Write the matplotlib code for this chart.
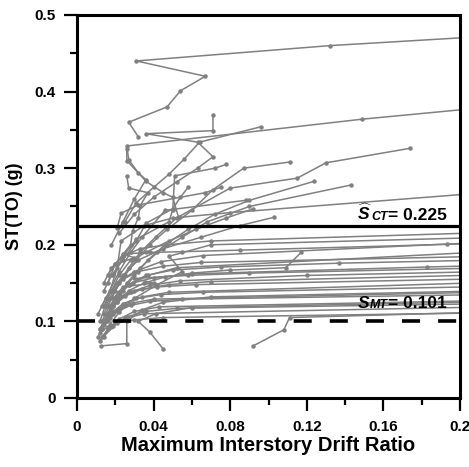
import matplotlib
matplotlib.use("Agg")
import matplotlib.pyplot as plt
from matplotlib.ticker import MultipleLocator, FixedLocator

plt.rcParams['font.family'] = ['Liberation Sans', 'DejaVu Sans']
plt.rcParams['mathtext.fontset'] = 'custom'
plt.rcParams['mathtext.it'] = 'Liberation Sans:italic:bold'
plt.rcParams['mathtext.rm'] = 'Liberation Sans:bold'
plt.rcParams['mathtext.bf'] = 'Liberation Sans:bold'

# ---- IDA curves: maximum interstory drift ratio vs ST(TO) (g) ----
r01_d = [0.032, 0.027, 0.047, 0.054, 0.067, 0.031, 0.132, 0.300]
r01_s = [0.341, 0.360, 0.380, 0.401, 0.420, 0.440, 0.460, 0.485]
r02_d = [0.018, 0.024, 0.030, 0.036, 0.032, 0.027, 0.026, 0.149, 0.300]
r02_s = [0.200, 0.230, 0.260, 0.285, 0.294, 0.311, 0.329, 0.364, 0.400]
r03_d = [0.022, 0.030, 0.040, 0.052, 0.063, 0.071, 0.063, 0.036, 0.071, 0.071]
r03_s = [0.215, 0.240, 0.262, 0.282, 0.300, 0.315, 0.334, 0.345, 0.349, 0.369]
r04_d = [0.025, 0.031, 0.040, 0.048, 0.056, 0.064, 0.096]
r04_s = [0.230, 0.255, 0.275, 0.292, 0.312, 0.334, 0.354]
r05_d = [0.014, 0.018, 0.022, 0.027, 0.033, 0.041, 0.052, 0.080, 0.115, 0.130, 0.174]
r05_s = [0.110, 0.130, 0.150, 0.170, 0.190, 0.210, 0.235, 0.274, 0.287, 0.307, 0.326]
r06_d = [0.016, 0.020, 0.025, 0.031, 0.038, 0.047, 0.060, 0.071, 0.087, 0.111]
r06_s = [0.120, 0.140, 0.160, 0.180, 0.200, 0.220, 0.245, 0.272, 0.300, 0.308]
r07_d = [0.015, 0.019, 0.024, 0.030, 0.037, 0.046, 0.058, 0.072, 0.090, 0.124]
r07_s = [0.100, 0.120, 0.140, 0.160, 0.180, 0.200, 0.220, 0.240, 0.258, 0.283]
r08_d = [0.013, 0.017, 0.021, 0.026, 0.033, 0.042, 0.055, 0.068, 0.090, 0.143]
r08_s = [0.090, 0.110, 0.130, 0.150, 0.170, 0.190, 0.210, 0.230, 0.250, 0.278]
r09_d = [0.012, 0.016, 0.021, 0.023, 0.035, 0.050, 0.080, 0.300]
r09_s = [0.100, 0.130, 0.170, 0.205, 0.225, 0.235, 0.242, 0.285]
m01_d = [0.021, 0.023, 0.032, 0.067, 0.075]
m01_s = [0.222, 0.241, 0.252, 0.268, 0.275]
m02_d = [0.026, 0.026, 0.036, 0.045, 0.050, 0.053]
m02_s = [0.325, 0.310, 0.283, 0.268, 0.262, 0.236]
m03_d = [0.016, 0.020, 0.028, 0.029, 0.032, 0.033, 0.037, 0.027, 0.026]
m03_s = [0.150, 0.175, 0.200, 0.218, 0.235, 0.251, 0.268, 0.274, 0.290]
m04_d = [0.019, 0.024, 0.031, 0.048, 0.050, 0.051, 0.072, 0.078]
m04_s = [0.160, 0.185, 0.207, 0.230, 0.246, 0.290, 0.300, 0.305]
m05_d = [0.014, 0.018, 0.024, 0.031, 0.036, 0.050, 0.054, 0.058]
m05_s = [0.140, 0.160, 0.180, 0.205, 0.228, 0.247, 0.262, 0.275]
m06_d = [0.013, 0.017, 0.022, 0.028, 0.034, 0.046, 0.088]
m06_s = [0.120, 0.140, 0.165, 0.190, 0.210, 0.245, 0.258]
b01_d = [0.014, 0.018, 0.024, 0.033, 0.047, 0.070, 0.400]
b01_s = [0.150, 0.170, 0.185, 0.195, 0.200, 0.205, 0.230]
b02_d = [0.011, 0.015, 0.021, 0.030, 0.044, 0.066, 0.193, 0.400]
b02_s = [0.110, 0.130, 0.150, 0.165, 0.178, 0.186, 0.201, 0.220]
b03_d = [0.016, 0.020, 0.030, 0.024, 0.038, 0.055, 0.085, 0.400]
b03_s = [0.160, 0.175, 0.183, 0.188, 0.190, 0.191, 0.193, 0.215]
b04_d = [0.012, 0.016, 0.020, 0.027, 0.037, 0.052, 0.400]
b04_s = [0.090, 0.110, 0.130, 0.148, 0.160, 0.170, 0.215]
b05_d = [0.015, 0.019, 0.024, 0.032, 0.045, 0.065, 0.400]
b05_s = [0.120, 0.140, 0.155, 0.165, 0.172, 0.177, 0.195]
b06_d = [0.017, 0.021, 0.027, 0.036, 0.050, 0.075, 0.137, 0.400]
b06_s = [0.110, 0.130, 0.148, 0.160, 0.167, 0.171, 0.176, 0.190]
b07_d = [0.013, 0.017, 0.022, 0.029, 0.040, 0.060, 0.183, 0.400]
b07_s = [0.100, 0.120, 0.138, 0.150, 0.157, 0.162, 0.171, 0.185]
b08_d = [0.019, 0.024, 0.040, 0.030, 0.058, 0.090, 0.400]
b08_s = [0.130, 0.145, 0.150, 0.156, 0.160, 0.163, 0.180]
b09_d = [0.012, 0.016, 0.021, 0.028, 0.038, 0.054, 0.120, 0.400]
b09_s = [0.090, 0.110, 0.125, 0.138, 0.147, 0.153, 0.160, 0.175]
b10_d = [0.014, 0.019, 0.025, 0.034, 0.048, 0.070, 0.400]
b10_s = [0.100, 0.120, 0.133, 0.142, 0.148, 0.152, 0.172]
b11_d = [0.018, 0.023, 0.030, 0.042, 0.062, 0.400]
b11_s = [0.120, 0.133, 0.140, 0.145, 0.148, 0.165]
b12_d = [0.011, 0.014, 0.019, 0.025, 0.034, 0.048, 0.400]
b12_s = [0.080, 0.095, 0.110, 0.123, 0.132, 0.138, 0.165]
b13_d = [0.015, 0.019, 0.024, 0.031, 0.044, 0.066, 0.400]
b13_s = [0.100, 0.113, 0.123, 0.130, 0.135, 0.138, 0.155]
b14_d = [0.013, 0.017, 0.022, 0.029, 0.040, 0.400]
b14_s = [0.090, 0.104, 0.116, 0.124, 0.129, 0.148]
b15_d = [0.016, 0.021, 0.028, 0.038, 0.055, 0.400]
b15_s = [0.100, 0.113, 0.121, 0.126, 0.129, 0.142]
b16_d = [0.012, 0.016, 0.022, 0.030, 0.043, 0.400]
b16_s = [0.075, 0.090, 0.103, 0.113, 0.119, 0.136]
b17_d = [0.014, 0.019, 0.026, 0.036, 0.052, 0.400]
b17_s = [0.080, 0.094, 0.106, 0.113, 0.117, 0.130]
b18_d = [0.013, 0.018, 0.025, 0.035, 0.400]
b18_s = [0.080, 0.093, 0.104, 0.110, 0.128]
b19_d = [0.092, 0.108, 0.111, 0.400]
b19_s = [0.068, 0.089, 0.105, 0.125]
b20_d = [0.012, 0.016, 0.021, 0.030, 0.045, 0.400]
b20_s = [0.085, 0.093, 0.098, 0.102, 0.105, 0.118]
e01_d = [0.016, 0.021, 0.027, 0.035, 0.046, 0.060, 0.080, 0.109, 0.117]
e01_s = [0.110, 0.125, 0.140, 0.150, 0.158, 0.163, 0.167, 0.170, 0.190]
e02_d = [0.014, 0.018, 0.024, 0.032, 0.045, 0.065, 0.085, 0.103]
e02_s = [0.120, 0.140, 0.160, 0.180, 0.195, 0.210, 0.225, 0.236]
e03_d = [0.018, 0.022, 0.028, 0.036, 0.048, 0.062, 0.078, 0.092]
e03_s = [0.140, 0.160, 0.180, 0.190, 0.205, 0.220, 0.235, 0.247]
e04_d = [0.0125, 0.026, 0.026, 0.034, 0.045, 0.070, 0.400]
e04_s = [0.068, 0.071, 0.100, 0.115, 0.125, 0.132, 0.150]
e05_d = [0.045, 0.038, 0.032, 0.041, 0.060, 0.400]
e05_s = [0.064, 0.086, 0.100, 0.110, 0.118, 0.135]
e06_d = [0.017, 0.022, 0.030, 0.042, 0.055, 0.048, 0.070, 0.400]
e06_s = [0.095, 0.112, 0.130, 0.148, 0.165, 0.185, 0.200, 0.222]

records = [
    (r01_d, r01_s), (r02_d, r02_s), (r03_d, r03_s), (r04_d, r04_s),
    (r05_d, r05_s), (r06_d, r06_s), (r07_d, r07_s), (r08_d, r08_s),
    (r09_d, r09_s), (m01_d, m01_s), (m02_d, m02_s), (m03_d, m03_s),
    (m04_d, m04_s), (m05_d, m05_s), (m06_d, m06_s),
    (b01_d, b01_s), (b02_d, b02_s), (b03_d, b03_s), (b04_d, b04_s),
    (b05_d, b05_s), (b06_d, b06_s), (b07_d, b07_s), (b08_d, b08_s),
    (b09_d, b09_s), (b10_d, b10_s), (b11_d, b11_s), (b12_d, b12_s),
    (b13_d, b13_s), (b14_d, b14_s), (b15_d, b15_s), (b16_d, b16_s),
    (b17_d, b17_s), (b18_d, b18_s), (b19_d, b19_s), (b20_d, b20_s),
    (e01_d, e01_s), (e02_d, e02_s), (e03_d, e03_s), (e04_d, e04_s),
    (e05_d, e05_s), (e06_d, e06_s),
]

s_ct = 0.225
s_mt = 0.101

x_ticks = [0, 0.04, 0.08, 0.12, 0.16, 0.2]
x_ticklabels = ['0', '0.04', '0.08', '0.12', '0.16', '0.2']
y_ticks = [0, 0.1, 0.2, 0.3, 0.4, 0.5]
y_ticklabels = ['0', '0.1', '0.2', '0.3', '0.4', '0.5']

fig = plt.figure(figsize=(4.69, 4.67), dpi=100)
ax = fig.add_axes([0.1642, 0.1478, 0.9808 - 0.1642, 0.9679 - 0.1478])

for d, s in records:
    ax.plot(d, s, color='#808080', lw=1.1, marker='o', ms=2.2,
            mec='#808080', mfc='#808080', zorder=2)

ax.axhline(s_ct, color='black', lw=2.3, zorder=3)
ax.axhline(s_mt, color='black', lw=2.6, ls=(0, (5.0, 5.0)), zorder=3)

ax.set_xlim(0, 0.2)
ax.set_ylim(0, 0.5)
ax.xaxis.set_major_locator(FixedLocator(x_ticks))
ax.set_xticklabels(x_ticklabels)
ax.yaxis.set_major_locator(FixedLocator(y_ticks))
ax.set_yticklabels(y_ticklabels)
ax.xaxis.set_minor_locator(MultipleLocator(0.02))
ax.yaxis.set_minor_locator(MultipleLocator(0.05))
ax.tick_params(which='major', direction='out', length=9.5, width=1.6,
               labelsize=11, pad=6)
ax.tick_params(which='minor', direction='out', length=5, width=1.6)
for lab in ax.get_xticklabels() + ax.get_yticklabels():
    lab.set_fontweight('bold')
for sp in ax.spines.values():
    sp.set_linewidth(2.2)

ax.set_xlabel('Maximum Interstory Drift Ratio', fontsize=14.5, fontweight='bold', labelpad=2)
ax.set_ylabel('ST(TO) (g)', fontsize=13, fontweight='bold', labelpad=8)

def label(y, sub, val):
    t1 = ax.text(0.193, y, '= ' + val, fontsize=12.5, fontweight='bold',
                 ha='right', va='bottom', zorder=5)
    t2 = ax.annotate(sub, xy=(0, 0), xycoords=t1, fontsize=9,
                     fontweight='bold', fontstyle='italic', ha='right',
                     va='bottom', zorder=5)
    return t2

t = label(s_ct + 0.003, 'CT', '0.225')
ax.annotate(r'$\widehat{S}$', xy=(0, 0), xycoords=t, xytext=(0.8, 0),
            textcoords='offset points', fontsize=12.5,
            ha='right', va='bottom', zorder=5)
t = label(s_mt + 0.012, 'MT', '0.101')
ax.annotate('S', xy=(0, 0), xycoords=t, fontsize=12.5, fontweight='bold',
            fontstyle='italic', ha='right', va='bottom', zorder=5)

fig.savefig('out.png', dpi=100)
